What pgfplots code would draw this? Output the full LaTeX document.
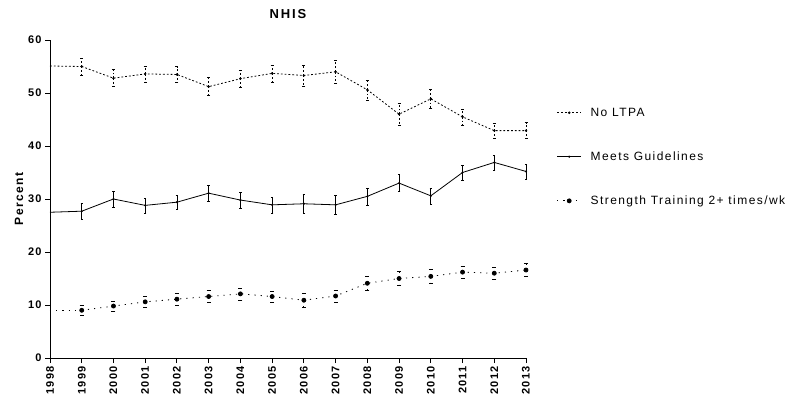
\documentclass[border=0pt]{standalone}
\usepackage{fontspec}
\setmainfont{Liberation Sans}
\usepackage{pgfplots}
\pgfplotsset{compat=1.18}
\begin{document}
\begin{tikzpicture}
\useasboundingbox (-50pt,-47pt) rectangle (750pt,358pt);
\begin{axis}[
  at={(0,0)}, anchor=south west,
  scale only axis,
  width=476pt, height=318pt,
  xmin=1998, xmax=2013, ymin=0, ymax=60,
  axis lines=left,
  axis line style={-, line width=0.9pt},
  xtick={1998,...,2013},
  ytick={0,10,...,60},
  tick align=outside,
  major tick length=5pt,
  tick style={line width=0.9pt, black},
  x tick label style={rotate=90, anchor=east, font=\bfseries\addfontfeature{LetterSpace=10}\fontsize{11}{12}\selectfont},
  y tick label style={font=\bfseries\addfontfeature{LetterSpace=10}\fontsize{11}{12}\selectfont},
  /pgf/number format/assume math mode=true,
  xticklabel={\pgfmathprintnumber[1000 sep={}]{\tick}},
  ylabel={\bfseries\addfontfeature{LetterSpace=12}Percent},
  ylabel style={font=\fontsize{12}{13}\selectfont, yshift=-2pt},
  title={\bfseries\addfontfeature{LetterSpace=14}NHIS},
  title style={font=\fontsize{13}{14}\selectfont, yshift=12pt},
  legend style={draw=none, fill=none, at={(1.058,0.80)}, anchor=north west,
    font=\addfontfeature{LetterSpace=12}\fontsize{12}{13}\selectfont,
    row sep=30pt, legend cell align=left},
  legend image code/.code={
    \draw[mark repeat=2,mark phase=2,#1] plot coordinates {(0pt,0pt) (12pt,0pt) (24pt,0pt)};
    \path (31pt,0pt);
  },
  error bars/y dir=both, error bars/y explicit,
  error bars/error bar style={line width=0.8pt},
  clip=false,
]
% No LTPA
\addplot+[black, line width=0.8pt, dash pattern=on 1.8pt off 2pt, mark=*, mark size=0.8pt, mark options={solid},
  error bars/error mark options={rotate=90, mark size=1.5pt, solid}]
coordinates {
(1999,55.0) +- (0,1.6)
(2000,52.8) +- (0,1.6)
(2001,53.6) +- (0,1.5)
(2002,53.5) +- (0,1.5)
(2003,51.2) +- (0,1.7)
(2004,52.7) +- (0,1.6)
(2005,53.7) +- (0,1.6)
(2006,53.3) +- (0,2.0)
(2007,54.0) +- (0,2.2)
(2008,50.6) +- (0,1.9)
(2009,46.0) +- (0,2.0)
(2010,48.9) +- (0,1.8)
(2011,45.5) +- (0,1.5)
(2012,42.9) +- (0,1.4)
(2013,42.9) +- (0,1.5)
};
\addlegendentry{No LTPA}
% Meets Guidelines
\addplot+[black, line width=0.8pt, solid, mark=*, mark size=0.6pt,
  error bars/error mark options={rotate=90, mark size=1.2pt}]
coordinates {
(1999,27.7) +- (0,1.5)
(2000,30.0) +- (0,1.5)
(2001,28.8) +- (0,1.4)
(2002,29.4) +- (0,1.4)
(2003,31.1) +- (0,1.5)
(2004,29.8) +- (0,1.5)
(2005,28.9) +- (0,1.5)
(2006,29.1) +- (0,1.8)
(2007,28.9) +- (0,1.8)
(2008,30.5) +- (0,1.6)
(2009,33.0) +- (0,1.6)
(2010,30.6) +- (0,1.5)
(2011,35.0) +- (0,1.4)
(2012,36.9) +- (0,1.4)
(2013,35.2) +- (0,1.4)
};
\addlegendentry{Meets Guidelines}
% Strength training
\addplot+[black, line width=0.8pt, dash pattern=on 1.2pt off 5pt, mark=*, mark size=2pt, mark options={solid, fill=black},
  error bars/error mark options={rotate=90, mark size=2pt, solid}]
coordinates {
(1999,9.0) +- (0,1.0)
(2000,9.8) +- (0,1.0)
(2001,10.6) +- (0,1.0)
(2002,11.1) +- (0,1.1)
(2003,11.6) +- (0,1.1)
(2004,12.1) +- (0,1.1)
(2005,11.6) +- (0,1.0)
(2006,10.9) +- (0,1.3)
(2007,11.7) +- (0,1.1)
(2008,14.1) +- (0,1.4)
(2009,15.0) +- (0,1.3)
(2010,15.4) +- (0,1.3)
(2011,16.2) +- (0,1.1)
(2012,16.0) +- (0,1.1)
(2013,16.6) +- (0,1.2)
};
\addlegendentry{Strength Training 2+ times/wk}
% 1998 segments
\addplot[forget plot, black, line width=0.8pt, dash pattern=on 1.8pt off 2pt] coordinates {(1998,55.1) (1999,55.0)};
\addplot[forget plot, black, line width=0.8pt] coordinates {(1998,27.5) (1999,27.7)};
\addplot[forget plot, black, line width=0.8pt, dash pattern=on 1.2pt off 5pt] coordinates {(1998,9.0) (1999,9.0)};
\end{axis}
\end{tikzpicture}
\end{document}
